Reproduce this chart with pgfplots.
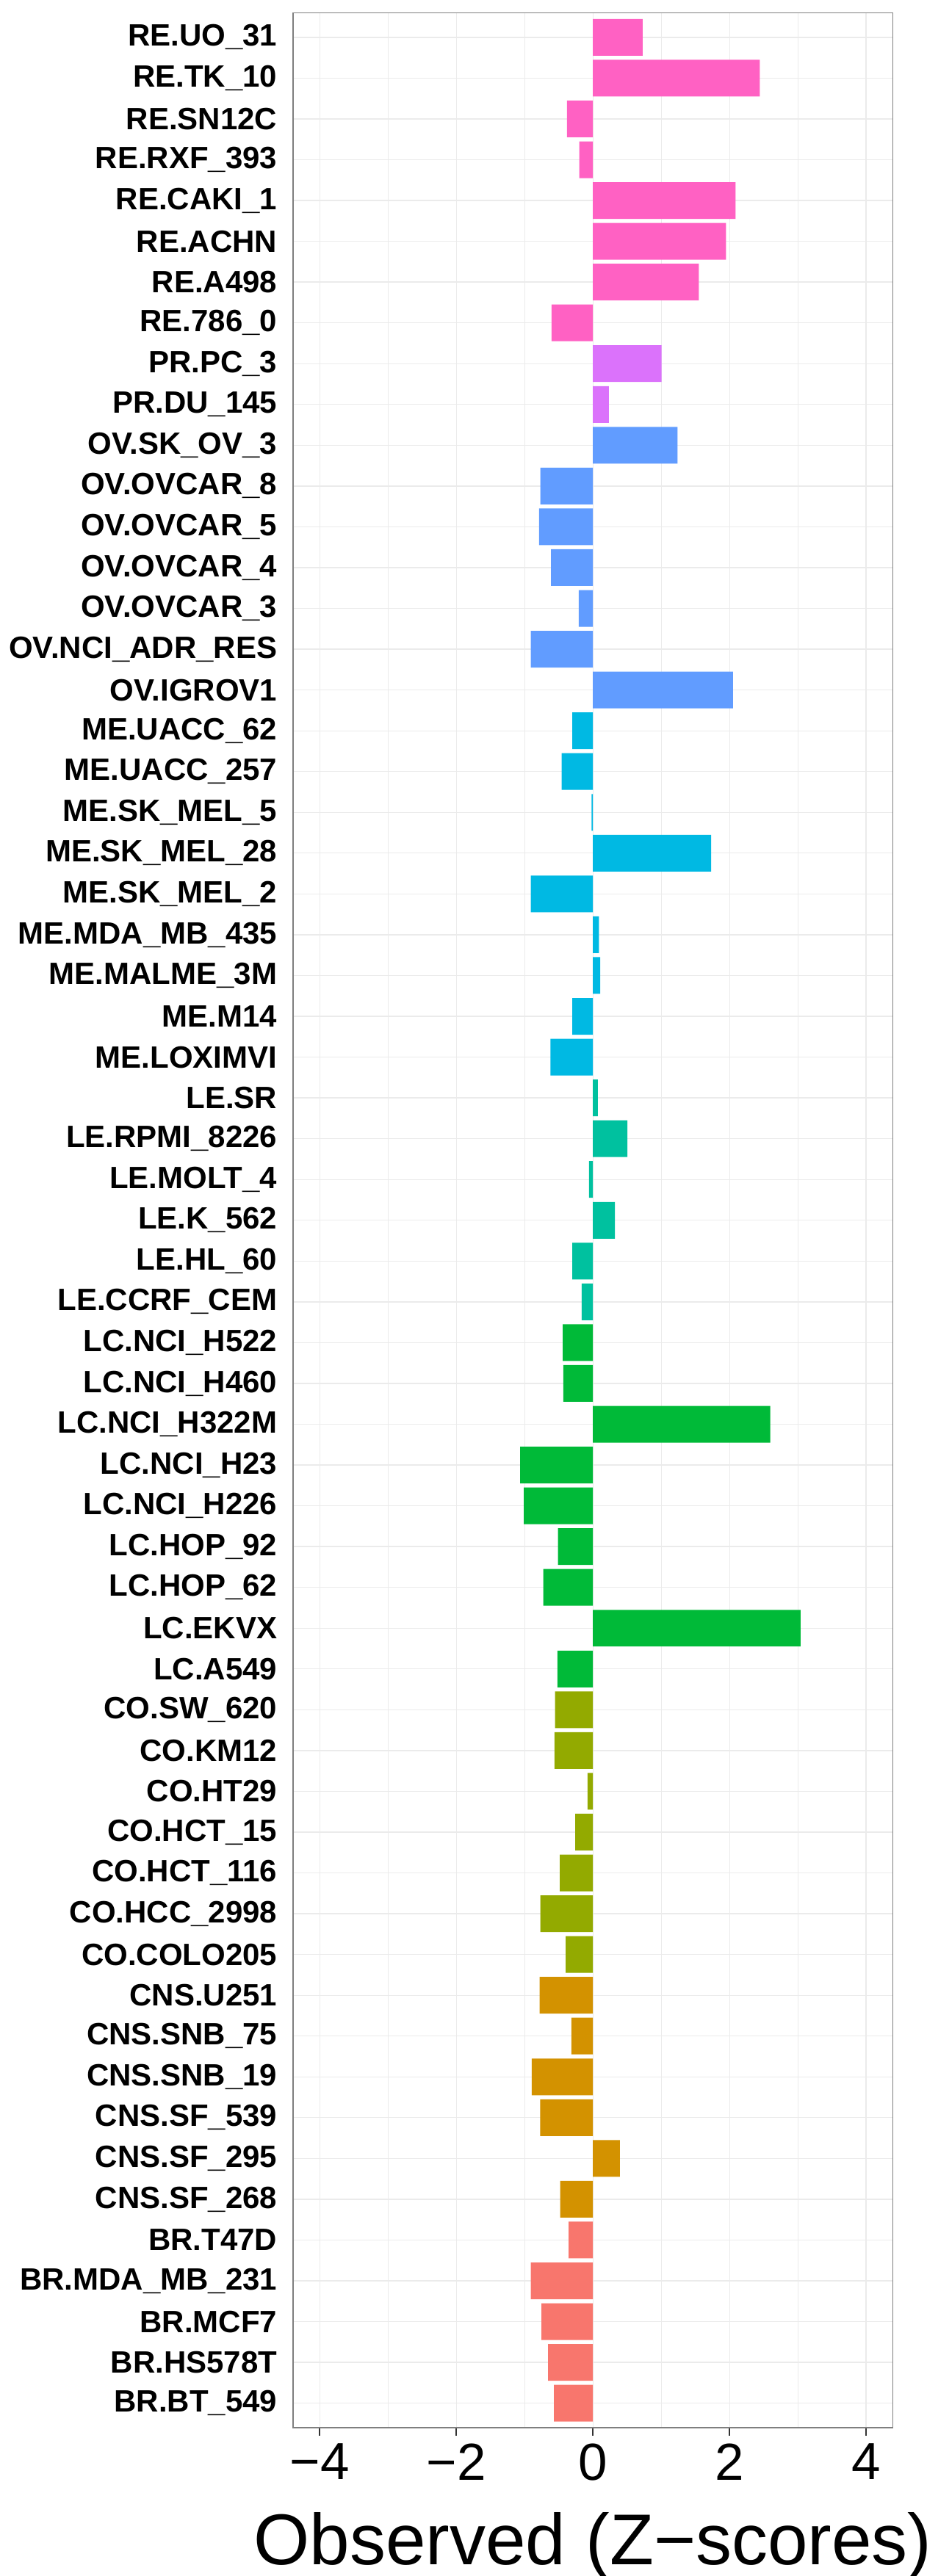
\documentclass[border=0pt]{standalone}
\usepackage{fontspec}
\setmainfont{Liberation Sans}
\usepackage{pgfplots}
\pgfplotsset{compat=1.18}

\definecolor{cBR}{HTML}{F8766D}
\definecolor{cCNS}{HTML}{D39200}
\definecolor{cCO}{HTML}{93AA00}
\definecolor{cLC}{HTML}{00BA38}
\definecolor{cLE}{HTML}{00C19F}
\definecolor{cME}{HTML}{00B9E3}
\definecolor{cOV}{HTML}{619CFF}
\definecolor{cPR}{HTML}{DB72FB}
\definecolor{cRE}{HTML}{FF61C3}
\definecolor{grid92}{HTML}{EBEBEB}
\definecolor{frame50}{HTML}{7F7F7F}
\definecolor{tick33}{HTML}{333333}

\pgfplotsset{hbar/.style={xbar, bar width=0.9, bar shift=0pt, draw=none}}

\begin{document}
\begin{tikzpicture}
\useasboundingbox (0,0) rectangle (315.5pt,877pt);
\begin{axis}[
  at={(99.75pt,50.5pt)}, anchor=south west,
  scale only axis, width=204.1pt, height=822.1pt,
  xmin=-4.39, xmax=4.39, ymin=0.4, ymax=59.6,
  xtick={-4,-2,0,2,4}, xticklabels={−4,−2,0,2,4},
  minor xtick={-3,-1,1,3},
  ytick={1,...,59},
  yticklabels={BR.BT\_549,BR.HS578T,BR.MCF7,BR.MDA\_MB\_231,BR.T47D,
    CNS.SF\_268,CNS.SF\_295,CNS.SF\_539,CNS.SNB\_19,CNS.SNB\_75,CNS.U251,
    CO.COLO205,CO.HCC\_2998,CO.HCT\_116,CO.HCT\_15,CO.HT29,CO.KM12,CO.SW\_620,
    LC.A549,LC.EKVX,LC.HOP\_62,LC.HOP\_92,LC.NCI\_H226,LC.NCI\_H23,LC.NCI\_H322M,LC.NCI\_H460,LC.NCI\_H522,
    LE.CCRF\_CEM,LE.HL\_60,LE.K\_562,LE.MOLT\_4,LE.RPMI\_8226,LE.SR,
    ME.LOXIMVI,ME.M14,ME.MALME\_3M,ME.MDA\_MB\_435,ME.SK\_MEL\_2,ME.SK\_MEL\_28,ME.SK\_MEL\_5,ME.UACC\_257,ME.UACC\_62,
    OV.IGROV1,OV.NCI\_ADR\_RES,OV.OVCAR\_3,OV.OVCAR\_4,OV.OVCAR\_5,OV.OVCAR\_8,OV.SK\_OV\_3,
    PR.DU\_145,PR.PC\_3,
    RE.786\_0,RE.A498,RE.ACHN,RE.CAKI\_1,RE.RXF\_393,RE.SN12C,RE.TK\_10,RE.UO\_31},
  xmajorgrids, xminorgrids, ymajorgrids,
  major grid style={color=grid92, line width=0.33pt},
  minor grid style={color=grid92, line width=0.17pt},
  axis line style={color=frame50, line width=0.35pt},
  tick pos=left, tick align=outside,
  major tick length=2.75pt, minor tick length=0pt,
  xtick style={color=tick33, line width=0.55pt},
  ytick style={draw=none},
  yticklabel style={font=\fontsize{10.5pt}{12pt}\selectfont\bfseries, inner sep=0pt, xshift=-2.5pt},
  xticklabel style={font=\fontsize{17.75pt}{20pt}\selectfont, inner sep=0pt, yshift=-2.5pt},
  xlabel={Observed (Z−scores)},
  xlabel style={font=\fontsize{24.5pt}{28pt}\selectfont, inner sep=0pt, anchor=base, at={(axis description cs:0.5,0)}, yshift=-46.5pt},
]
\addplot[hbar, fill=cBR] coordinates {(-0.571,1) (-0.658,2) (-0.753,3) (-0.909,4) (-0.355,5)};
\addplot[hbar, fill=cCNS] coordinates {(-0.480,6) (0.395,7) (-0.773,8) (-0.897,9) (-0.316,10) (-0.780,11)};
\addplot[hbar, fill=cCO] coordinates {(-0.398,12) (-0.771,13) (-0.485,14) (-0.260,15) (-0.078,16) (-0.563,17) (-0.554,18)};
\addplot[hbar, fill=cLC] coordinates {(-0.519,19) (3.039,20) (-0.727,21) (-0.511,22) (-1.013,23) (-1.065,24) (2.597,25) (-0.433,26) (-0.442,27)};
\addplot[hbar, fill=cLE] coordinates {(-0.165,28) (-0.302,29) (0.322,30) (-0.058,31) (0.504,32) (0.072,33)};
\addplot[hbar, fill=cME] coordinates {(-0.623,34) (-0.302,35) (0.106,36) (0.087,37) (-0.909,38) (1.732,39) (-0.020,40) (-0.459,41) (-0.303,42)};
\addplot[hbar, fill=cOV] coordinates {(2.052,43) (-0.909,44) (-0.208,45) (-0.615,46) (-0.788,47) (-0.771,48) (1.238,49)};
\addplot[hbar, fill=cPR] coordinates {(0.234,50) (1.004,51)};
\addplot[hbar, fill=cRE] coordinates {(-0.606,52) (1.550,53) (1.948,54) (2.087,55) (-0.199,56) (-0.381,57) (2.442,58) (0.727,59)};
\end{axis}
\end{tikzpicture}
\end{document}
